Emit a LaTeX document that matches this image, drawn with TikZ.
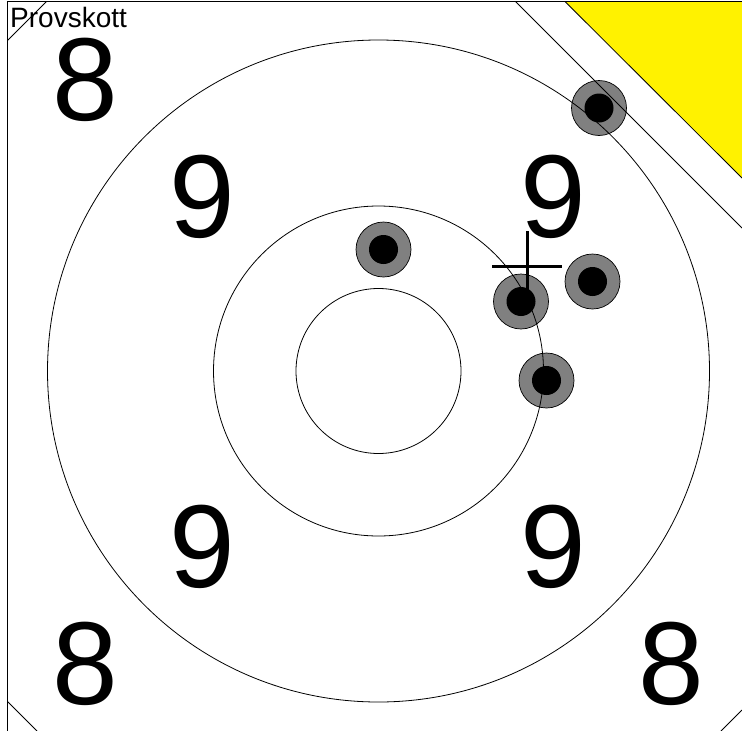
\documentclass[tikz,border=0pt]{standalone}
\usepackage{fontspec}
\setmainfont{Liberation Sans}
\begin{document}
\begin{tikzpicture}[x=1pt,y=-1pt,
  ring/.style={draw=black,line width=0.8pt},
  edge/.style={draw=black,line width=0.8pt},
  shotouter/.style={circle,fill=gray,draw=black,line width=0.7pt,minimum size=55pt,inner sep=0pt},
  shotinner/.style={circle,fill=black,minimum size=29pt,inner sep=0pt},
  bignum/.style={inner sep=0pt,font=\fontsize{118}{118}\selectfont},
  label/.style={inner sep=0pt,anchor=base west,font=\fontsize{28}{28}\selectfont}]
\useasboundingbox (0,0) rectangle (742,731);
\fill[white] (0,0) rectangle (742,731);
% yellow sighting corner
\coordinate (y1) at (565,1.5);
\coordinate (y2) at (742,1.5);
\coordinate (y3) at (742,178);
\fill[yellow] (y1) -- (y2) -- (y3) -- cycle;
\draw[edge] (y1) -- (y3);
% shots
\foreach \n/\x/\y in {s1/599/108, s2/383.5/249.5, s3/592.5/281.5, s4/521/301.5, s5/546.5/380.5}{
  \node[shotouter] (\n) at (\x,\y) {};
  \node[shotinner] at (\n) {};
}
% rings
\coordinate (c) at (378.5,371);
\draw[ring] (c) circle[radius=82.5];
\draw[ring] (c) circle[radius=165];
\draw[ring] (c) circle[radius=331];
% frame
\coordinate (tl) at (7.5,1.5);
\coordinate (tr) at (742,1.5);
\coordinate (bl) at (7.5,731);
\draw[line width=1.5pt] (tr) -- (tl) -- (bl);
% corner diagonals
\coordinate (d1a) at (7.5,40.5);  \coordinate (d1b) at (46.5,1.5);
\coordinate (d2a) at (7.5,701.5); \coordinate (d2b) at (37,731);
\coordinate (d3a) at (742,710);   \coordinate (d3b) at (721,731);
\coordinate (d4a) at (515.5,1.5); \coordinate (d4b) at (742,228);
\draw[edge] (d1a) -- (d1b);
\draw[edge] (d2a) -- (d2b);
\draw[edge] (d3a) -- (d3b);
\draw[edge] (d4a) -- (d4b);
% crosshair
\coordinate (hl) at (492,266); \coordinate (hr) at (562,266);
\coordinate (vt) at (527,231); \coordinate (vb) at (527,290);
\draw[line width=3pt] (hl) -- (hr);
\draw[line width=3pt] (vt) -- (vb);
% numbers
\node[bignum] (n8a) at (85,80) {8};
\node[bignum] (n9a) at (202,197) {9};
\node[bignum] (n9b) at (553,197) {9};
\node[bignum] (n9c) at (202,547) {9};
\node[bignum] (n9d) at (553,547) {9};
\node[bignum] (n8b) at (85,664) {8};
\node[bignum] (n8c) at (671,664) {8};
\node[label] (prov) at (10,27) {Provskott};
\end{tikzpicture}
\end{document}
